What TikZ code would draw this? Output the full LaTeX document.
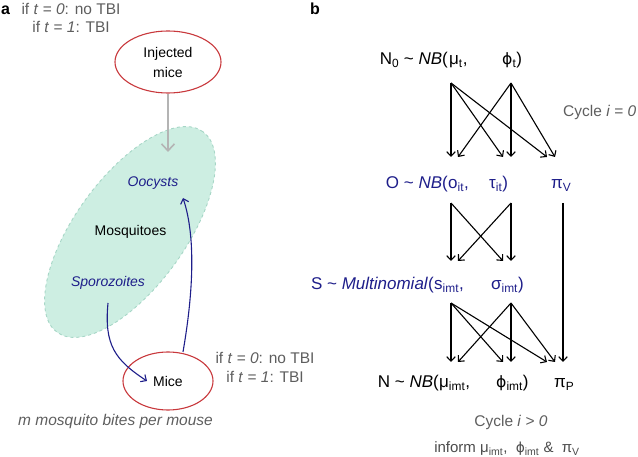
\documentclass[tikz,border=0pt]{standalone}
\usepackage{fontspec}
\setmainfont{Liberation Sans}
\newfontfamily\phifont{DejaVu Sans}[Scale=0.92]
\newcommand{\myphi}{{\phifont ϕ}}
\usetikzlibrary{shapes.geometric,arrows.meta}
\definecolor{navy}{HTML}{1E1E8A}
\definecolor{redl}{HTML}{C8383C}
\definecolor{mfill}{HTML}{CDEEE2}
\definecolor{medge}{HTML}{A6D6C6}
\definecolor{gtxt}{HTML}{5E5E5E}
\definecolor{garrow}{HTML}{B4B4B4}
\tikzset{
  lbl/.style={inner sep=0pt, font=\fontsize{14}{20}\selectfont},
  gt/.style={inner sep=0pt, text=gtxt, font=\fontsize{15.5}{18}\selectfont},
  frm/.style={inner sep=0pt, font=\fontsize{17}{20}\selectfont},
  redell/.style={ellipse, draw=redl, line width=1.1pt, inner sep=0pt},
  barb/.style={-{Straight Barb[length=4.5pt,width=8.5pt]}, line width=1.1pt},
}
\begin{document}
\begin{tikzpicture}[x=1pt,y=-1pt]
\useasboundingbox (0,0) rectangle (638,457);
% ---------- panel a ----------
\node[inner sep=0pt, anchor=base west, font=\fontsize{16}{18}\selectfont\bfseries] (la) at (1,15) {a};
\node[gt, anchor=base] (tbi1) at (71,15) {if \textit{t} = \textit{0}: no TBI};
\node[gt, anchor=base] (tbi2) at (71,33) {if \textit{t} = \textit{1}: TBI};
\node[redell, minimum width=106pt, minimum height=62pt, align=center, font=\fontsize{14}{20}\selectfont] (inj) at (168,62) {Injected\\mice};
\node[ellipse, draw=medge, dashed, fill=mfill, line width=0.9pt, minimum width=248pt, minimum height=110pt, inner sep=0pt, rotate=54] (mosq) at (130,232) {};
\coordinate (mtop) at (168,152);
\draw[garrow, line width=1.6pt, -{Straight Barb[length=7pt,width=13pt]}] (inj.south) -- (mtop);
\node[lbl, anchor=base, text=navy, font=\fontsize{14}{20}\selectfont\itshape] (ooc) at (153,187) {Oocysts};
\node[lbl, anchor=base] (mosqt) at (130.5,236) {Mosquitoes};
\node[lbl, anchor=base, text=navy, font=\fontsize{14}{20}\selectfont\itshape] (spor) at (108,287) {Sporozoites};
\node[redell, minimum width=90pt, minimum height=58pt, font=\fontsize{14}{20}\selectfont] (mice) at (168,381) {Mice};
\coordinate (sporout) at (108,303);
\coordinate (micein) at (147,381);
\coordinate (miceout) at (183,352);
\coordinate (oocin) at (183,198);
\draw[navy, barb] (sporout) .. controls (104,345) and (115,360) .. (micein);
\draw[navy, barb] (miceout) .. controls (192,300) and (197,240) .. (oocin);
\node[gt, anchor=base] (tbi3) at (265,363) {if \textit{t} = \textit{0}: no TBI};
\node[gt, anchor=base] (tbi4) at (265,382) {if \textit{t} = \textit{1}: TBI};
\node[gt, anchor=base, font=\fontsize{15.5}{18}\selectfont\itshape] (bites) at (115.5,425) {m mosquito bites per mouse};
% ---------- panel b ----------
\node[inner sep=0pt, anchor=base west, font=\fontsize{16}{18}\selectfont\bfseries] (lb) at (310,15) {b};
% line 1
\node[frm, anchor=base east] (n0) at (448,65) {N\textsubscript{0} \textasciitilde{} \textit{NB}(};
\node[frm, anchor=base west] (mut) at (449,65) {μ\textsubscript{t},};
\node[frm, anchor=base west] (phit) at (502,65) {\myphi\textsubscript{t})};
% line 2
\node[frm, anchor=base east, text=navy] (O) at (448,189) {O \textasciitilde{} \textit{NB}(};
\node[frm, anchor=base west, text=navy] (oit) at (448,189) {o\textsubscript{it},};
\node[frm, anchor=base west, text=navy] (tau) at (489,189) {τ\textsubscript{it})};
\node[frm, anchor=base west, text=navy] (piv) at (551,189) {π\textsubscript{V}};
% line 3
\node[frm, anchor=base east, text=navy] (S) at (434,290) {S \textasciitilde{} \textit{Multinomial}(};
\node[frm, anchor=base west, text=navy] (simt) at (434,290) {s\textsubscript{imt},};
\node[frm, anchor=base west, text=navy] (sig) at (491,290) {σ\textsubscript{imt})};
% line 4
\node[frm, anchor=base east] (N) at (439,388) {N \textasciitilde{} \textit{NB}(};
\node[frm, anchor=base west] (muimt) at (439,388) {μ\textsubscript{imt},};
\node[frm, anchor=base west] (phiimt) at (496,388) {\myphi\textsubscript{imt})};
\node[frm, anchor=base west] (pip) at (554,388) {π\textsubscript{P}};
% cycle labels
\node[gt, anchor=base west] (c0) at (563,117) {Cycle \textit{i} = \textit{0}};
\node[gt, anchor=base] (c1) at (511,427) {Cycle \textit{i} > \textit{0}};
\node[inner sep=0pt, anchor=base, text=gtxt!80!black, font=\fontsize{15}{18}\selectfont] (inf) at (507,453) {inform μ\textsubscript{imt}, \ \myphi\textsubscript{imt} \& \ π\textsubscript{V}};
% arrow anchors
\coordinate (a1) at (451,83);  \coordinate (b1) at (511,83);
\coordinate (a2) at (451,157); \coordinate (a2b) at (458,157);
\coordinate (t2) at (503,157); \coordinate (t2b) at (511,157);
\coordinate (p2) at (547,157); \coordinate (p2b) at (555,157);
\coordinate (a3) at (451,203); \coordinate (b3) at (511,203); \coordinate (v3) at (563,203);
\coordinate (s4) at (451,261); \coordinate (s4b) at (458,261);
\coordinate (g4) at (503,261); \coordinate (g4b) at (511,261);
\coordinate (a5) at (451,303); \coordinate (b5) at (511,303);
\coordinate (m6) at (451,362); \coordinate (m6b) at (458,362);
\coordinate (f6) at (503,362); \coordinate (f6b) at (511,362);
\coordinate (p6) at (547,362); \coordinate (p6b) at (555,362); \coordinate (v6) at (563,362);
\begin{scope}[barb]
\draw (a1) -- (a2); \draw (a1) -- (t2); \draw (a1) -- (p2);
\draw (b1) -- (a2b); \draw (b1) -- (t2b); \draw (b1) -- (p2b);
\draw (a3) -- (s4); \draw (a3) -- (g4);
\draw (b3) -- (s4b); \draw (b3) -- (g4b);
\draw (v3) -- (v6);
\draw (a5) -- (m6); \draw (a5) -- (f6); \draw (a5) -- (p6);
\draw (b5) -- (m6b); \draw (b5) -- (f6b); \draw (b5) -- (p6b);
\end{scope}
\end{tikzpicture}
\end{document}
